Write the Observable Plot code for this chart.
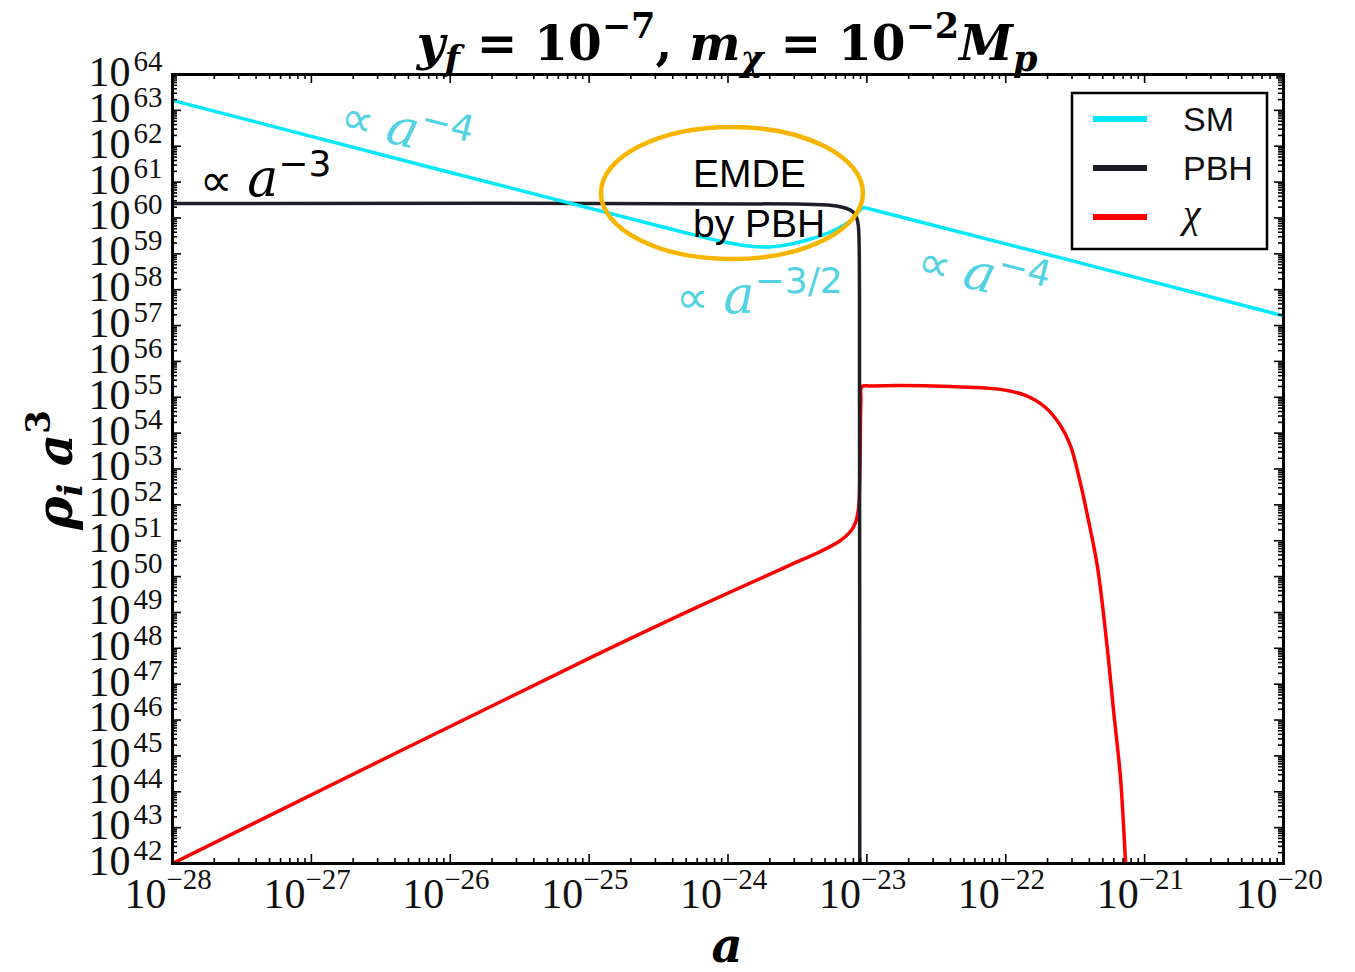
<!DOCTYPE html>
<html><head><meta charset="utf-8">
<script src="https://cdn.jsdelivr.net/npm/d3@7"></script>
<script src="https://cdn.jsdelivr.net/npm/@observablehq/plot@0.6"></script>
<style>body{margin:0;background:#fff;}#chart{width:1355px;height:972px;}</style>
</head><body><div id="chart"></div>
<script>
// ---- data (log10 values) ----
const xDecades = [-28,-27,-26,-25,-24,-23,-22,-21,-20];
const yDecades = [42,43,44,45,46,47,48,49,50,51,52,53,54,55,56,57,58,59,60,61,62,63,64];

const smLogA   = [-28, -24.3, -24.0, -23.85, -23.7, -23.55, -23.4, -23.25, -23.12, -23.06, -23.03, -22.95, -20];
const smLogRho = [63.28, 59.58, 59.31, 59.22, 59.19, 59.27, 59.42, 59.63, 59.92, 60.17, 60.28, 60.22, 57.27];

const pbhLogA   = [-28, -23.5, -23.25, -23.15, -23.1, -23.075, -23.062, -23.056, -23.053, -23.051];
const pbhLogRho = [60.40, 60.39, 60.35, 60.27, 60.17, 60.02, 59.8, 59.3, 55, 41];

const chiLogA   = [-28, -24.99, -24.198, -23.478, -23.334, -23.19, -23.118, -23.082, -23.06, -23.05, -23.043, -23.036, -22.975, -22.758, -22.398, -22.038, -21.858, -21.714, -21.606, -21.534, -21.462, -21.404, -21.339, -21.267, -21.224, -21.174, -21.138, -21.13];
const chiLogRho = [42.0, 47.74, 49.19, 50.45, 50.70, 51.006, 51.257, 51.508, 51.90, 52.96, 54.91, 55.30, 55.315, 55.33, 55.30, 55.22, 55.05, 54.715, 54.213, 53.655, 52.60, 51.56, 50.26, 47.94, 46.27, 44.40, 42.08, 41.5];

const seriesNames = ["SM", "PBH", "χ"];
const seriesColors = ["#00e8fa", "#1e1f26", "#ff0000"];

// ---- layout ----
const W = 1355, H = 972, mL = 172, mR = 72, mT = 74, mB = 109;
const plotW = W - mL - mR, plotH = H - mT - mB;

const rows = (la, lr) => la.map((v, i) => ({a: 10 ** v, r: 10 ** lr[i]}));
const sm = rows(smLogA, smLogRho), pbh = rows(pbhLogA, pbhLogRho), chi = rows(chiLogA, chiLogRho);

const majorX = xDecades.map(d => 10 ** d);
const majorY = yDecades.map(d => 10 ** d);
const minorX = [], minorY = [];
for (const d of xDecades.slice(0, -1)) for (let k = 2; k <= 9; k++) minorX.push(k * 10 ** d);
for (const d of yDecades.slice(0, -1)) for (let k = 2; k <= 9; k++) minorY.push(k * 10 ** d);

const serif = "Liberation Serif";
const tickStyle = {stroke: "#000", strokeWidth: 1.6};
const lineOpts = {x: "a", y: "r", strokeWidth: 3.5, clip: true, curve: "catmull-rom"};

const plot = Plot.plot({
  width: W, height: H,
  marginLeft: mL, marginRight: mR, marginTop: mT, marginBottom: mB,
  x: {type: "log", domain: [1e-28, 1e-20], axis: null},
  y: {type: "log", domain: [1e42, 1e64], axis: null},
  style: {background: "#fff", overflow: "visible"},
  marks: [
    Plot.line(chi, {...lineOpts, stroke: seriesColors[2]}),
    Plot.line(pbh, {...lineOpts, stroke: seriesColors[1]}),
    Plot.line(sm, {...lineOpts, stroke: seriesColors[0]}),
    // inward ticks on all four sides
    Plot.tickX(majorX, {x: d => d, insetTop: plotH - 9, ...tickStyle}),
    Plot.tickX(majorX, {x: d => d, insetBottom: plotH - 9, ...tickStyle}),
    Plot.tickX(minorX, {x: d => d, insetTop: plotH - 5, ...tickStyle}),
    Plot.tickX(minorX, {x: d => d, insetBottom: plotH - 5, ...tickStyle}),
    Plot.tickY(majorY, {y: d => d, insetRight: plotW - 9, ...tickStyle}),
    Plot.tickY(majorY, {y: d => d, insetLeft: plotW - 9, ...tickStyle}),
    Plot.tickY(minorY, {y: d => d, insetRight: plotW - 5, ...tickStyle}),
    Plot.tickY(minorY, {y: d => d, insetLeft: plotW - 5, ...tickStyle}),
    Plot.frame({stroke: "#000", strokeWidth: 3}),
    // x tick labels: 10^{d}
    Plot.text(xDecades, {x: d => 10 ** d, frameAnchor: "bottom", text: () => "10", textAnchor: "end", dx: -6, dy: 44, fontSize: 42, fontFamily: serif, fill: "#111"}),
    Plot.text(xDecades, {x: d => 10 ** d, frameAnchor: "bottom", text: d => "\u2212" + Math.abs(d), textAnchor: "start", dx: -6, dy: 25, fontSize: 29, fontFamily: serif, fill: "#111"}),
    // y tick labels
    Plot.text(yDecades, {y: d => 10 ** d, frameAnchor: "left", text: () => "10", textAnchor: "end", dx: -42, dy: -2, fontSize: 42, fontFamily: serif, fill: "#111"}),
    Plot.text(yDecades, {y: d => 10 ** d, frameAnchor: "left", text: d => String(d), textAnchor: "end", dx: -10, dy: -13, fontSize: 29, fontFamily: serif, fill: "#111"})
  ]
});
document.getElementById("chart").appendChild(plot);

// ---- annotations through the plot's scales ----
const sx = plot.scale("x"), sy = plot.scale("y");
const X = l => sx.apply(10 ** l), Y = L => sy.apply(10 ** L);
const svg = d3.select(plot);

function rich(x, y, parts, opts = {}) {
  const t = svg.append("text").attr("x", x).attr("y", y)
    .attr("font-family", opts.family || serif).attr("font-size", opts.size || 40)
    .attr("fill", opts.fill || "#000").attr("text-anchor", opts.anchor || "start");
  if (opts.weight) t.attr("font-weight", opts.weight);
  if (opts.rotate) t.attr("transform", `rotate(${opts.rotate},${x},${y})`);
  let shift = 0;
  for (const p of parts) {
    const s = t.append("tspan").text(p.t);
    const ns = p.shift || 0;
    if (ns !== shift) s.attr("dy", ns - shift);
    shift = ns;
    if (p.size) s.attr("font-size", p.size);
    if (p.italic) s.attr("font-style", "italic");
    if (p.family) s.attr("font-family", p.family);
  }
  return t;
}

// title
const tf = "DejaVu Serif";
rich(727, 60, [
  {t: "y", italic: true}, {t: "f", italic: true, size: 35, shift: 11},
  {t: " = 10"}, {t: "\u22127", size: 35, shift: -22},
  {t: ", "}, {t: "m", italic: true}, {t: "\u03C7", italic: true, size: 35, shift: 11},
  {t: " = 10"}, {t: "\u22122", size: 35, shift: -22},
  {t: "M", italic: true}, {t: "p", italic: true, size: 35, shift: 11}
], {family: tf, size: 48.5, weight: "bold", anchor: "middle"});

// axis labels
rich(727, 962, [{t: "a", italic: true}], {family: tf, size: 48, weight: "bold", anchor: "middle"});
rich(72, 470, [
  {t: "\u03C1", italic: true}, {t: "i", italic: true, size: 34, shift: 10},
  {t: " a", italic: true}, {t: "3", size: 34, shift: -22}
], {family: tf, size: 50, weight: "bold", anchor: "middle", rotate: -90});

// ellipse highlighting the EMDE
svg.append("ellipse").attr("cx", X(-23.968)).attr("cy", Y(60.682)).attr("rx", 131).attr("ry", 66)
  .attr("fill", "none").attr("stroke", "#f7b500").attr("stroke-width", 4.5);

const sans = "Liberation Sans";
rich(X(-24.248), Y(60.85), [{t: "EMDE"}], {family: sans, size: 39, fill: "#000"});
rich(X(-24.248), Y(59.455), [{t: "by PBH"}], {family: sans, size: 39, fill: "#000"});

// slope annotations
const cyanText = "#52d2e2";
const prop = (exp, fill, lx, ly, rot) => rich(X(lx), Y(ly), [
  {t: "\u221D ", family: "DejaVu Sans", size: 46}, {t: "a", italic: true, size: 52},
  {t: exp, size: 36, shift: -20, family: "DejaVu Sans"}
], {family: "DejaVu Serif", size: 46, fill, rotate: rot});
prop("\u22123", "#000", -27.80, 60.6, 0);
prop("\u22124", cyanText, -26.805, 62.44, 14);
prop("\u22123/2", cyanText, -24.37, 57.336, 0);
prop("\u22124", cyanText, -22.65, 58.40, 14);

// legend
const lg = svg.append("g");
lg.append("rect").attr("x", 1072).attr("y", 93).attr("width", 195).attr("height", 156)
  .attr("fill", "#fff").attr("stroke", "#000").attr("stroke-width", 2.5);
seriesNames.forEach((n, i) => {
  const yy = 119 + i * 49;
  lg.append("line").attr("x1", 1093).attr("x2", 1147).attr("y1", yy).attr("y2", yy)
    .attr("stroke", seriesColors[i]).attr("stroke-width", 6);
  const t = lg.append("text").attr("x", 1183).attr("y", yy + 12).text(n)
    .attr("fill", "#111").attr("text-anchor", "start");
  if (i < 2) t.attr("font-family", sans).attr("font-size", 34);
  else t.attr("font-family", serif).attr("font-style", "italic").attr("font-size", 40).attr("y", yy + 10);
});
</script>
</body></html>
